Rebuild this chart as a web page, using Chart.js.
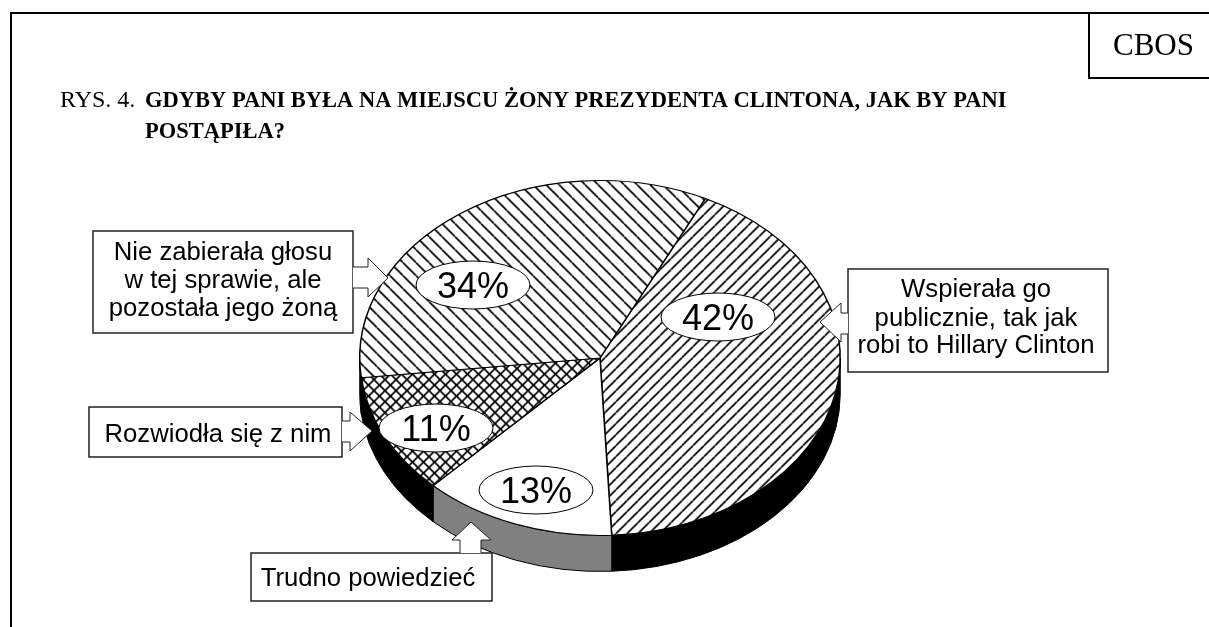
<!DOCTYPE html>
<html>
<head>
<meta charset="utf-8">
<title>RYS. 4</title>
<style>
  html, body { margin: 0; background: #fff; }
  canvas { display: block; }
</style>
<script src="https://cdn.jsdelivr.net/npm/chart.js@4"></script>
</head>
<body>
<canvas id="myChart" width="1209" height="627"></canvas>
<script>
// data
const categories = ["Wspierała go publicznie", "Trudno powiedzieć", "Rozwiodła się z nim", "Nie zabierała głosu"];
const values = [42, 13, 11, 34];
const calloutLines = [
  ["Wspierała go", "publicznie, tak jak", "robi to Hillary Clinton"],
  ["Trudno powiedzieć"],
  ["Rozwiodła się z nim"],
  ["Nie zabierała głosu", "w tej sprawie, ale", "pozostała jego żoną"]
];
const titleLead = "RYS. 4. ";
const titleLines = ["GDYBY PANI BYŁA NA MIEJSCU ŻONY PREZYDENTA CLINTONA, JAK BY PANI", "POSTĄPIŁA?"];
const sourceLabel = "CBOS";

// layout, same order as the slices
const squash = 178 / 241;
const rimDepth = 36;
const rimColors = ["#000", "#808080", "#000", "#000"];
const bubbles = [[718, 317], [536, 490], [436, 428], [473, 285]];
const boxes = [
  { x: 848, y: 269, w: 260, h: 103, textX: 976, base: [297, 326, 353] },
  { x: 251, y: 553, w: 241, h: 48, textX: 368, base: [586] },
  { x: 89, y: 407, w: 253, h: 50, textX: 218, base: [442] },
  { x: 93, y: 231, w: 260, h: 102, textX: 223, base: [260, 288, 316] }
];
const arrows = [
  [[848, 313], [841, 313], [841, 303], [820, 322], [841, 342], [841, 334], [848, 334]],
  [[460, 553], [460, 540], [452, 540], [471, 522], [491, 540], [481, 540], [481, 553]],
  [[342, 421], [350, 421], [350, 412], [372, 431], [350, 451], [350, 442], [342, 442]],
  [[353, 267], [368, 267], [368, 258], [388, 278], [368, 297], [368, 288], [353, 288]]
];

function hatch(size, dirs) {
  const c = document.createElement("canvas");
  c.width = c.height = size;
  const g = c.getContext("2d");
  g.fillStyle = "#fff";
  g.fillRect(0, 0, size, size);
  g.strokeStyle = "#000";
  g.lineWidth = 1.7;
  dirs.forEach((d) => {
    for (let i = -1; i <= 1; i++) {
      g.beginPath();
      if (d === "/") {
        g.moveTo(i * size, size);
        g.lineTo(i * size + size, 0);
      } else {
        g.moveTo(i * size, 0);
        g.lineTo(i * size + size, size);
      }
      g.stroke();
    }
  });
  const p = g.createPattern(c, "repeat");
  // slices are drawn squashed, keep the hatching at 45 degrees on screen
  p.setTransform(new DOMMatrix().scale(1, 1 / squash));
  return p;
}

const fills = [hatch(11, ["/"]), "#fff", hatch(11, ["/", "\\"]), hatch(13, ["\\"])];

const tiltPlugin = {
  id: "tilt",
  beforeDatasetsDraw(chart) {
    const ctx = chart.ctx;
    const arcs = chart.getDatasetMeta(0).data;
    arcs.forEach((el, i) => {
      const s = Math.max(el.startAngle, 0);
      const e = Math.min(el.endAngle, Math.PI);
      if (e <= s) return;
      const rx = el.outerRadius;
      const ry = rx * squash;
      ctx.beginPath();
      ctx.ellipse(el.x, el.y, rx, ry, 0, s, e);
      ctx.ellipse(el.x, el.y + rimDepth, rx, ry, 0, e, s, true);
      ctx.closePath();
      ctx.fillStyle = rimColors[i];
      ctx.fill();
      ctx.strokeStyle = "#000";
      ctx.lineWidth = 1;
      ctx.stroke();
    });
    const first = arcs[0];
    ctx.save();
    ctx.translate(first.x, first.y);
    ctx.scale(1, squash);
    ctx.translate(-first.x, -first.y);
  },
  afterDatasetsDraw(chart) {
    chart.ctx.restore();
  },
  afterDraw(chart) {
    const ctx = chart.ctx;

    // frame
    ctx.strokeStyle = "#000";
    ctx.lineWidth = 2;
    ctx.beginPath();
    ctx.moveTo(11, 627);
    ctx.lineTo(11, 13);
    ctx.lineTo(1209, 13);
    ctx.moveTo(1089, 13);
    ctx.lineTo(1089, 78);
    ctx.lineTo(1209, 78);
    ctx.stroke();

    ctx.fillStyle = "#000";
    ctx.textBaseline = "alphabetic";
    ctx.textAlign = "left";
    ctx.font = '31px "Liberation Serif"';
    ctx.fillText(sourceLabel, 1113, 55);

    ctx.font = '24px "Liberation Serif"';
    ctx.fillText(titleLead, 60, 107);
    ctx.font = 'bold 22.5px "Liberation Serif"';
    ctx.fillText(titleLines[0], 145, 107);
    ctx.fillText(titleLines[1], 145, 138);

    // percent bubbles
    values.forEach((v, i) => {
      const [x, y] = bubbles[i];
      ctx.beginPath();
      ctx.ellipse(x, y, 57, 24, 0, 0, Math.PI * 2);
      ctx.fillStyle = "#fff";
      ctx.fill();
      ctx.strokeStyle = "#000";
      ctx.lineWidth = 1;
      ctx.stroke();
      ctx.fillStyle = "#000";
      ctx.font = '36px "Liberation Sans"';
      ctx.textAlign = "center";
      ctx.textBaseline = "alphabetic";
      ctx.fillText(v + "%", x, y + 13);
    });

    // callouts
    calloutLines.forEach((lines, i) => {
      const b = boxes[i];
      ctx.fillStyle = "#fff";
      ctx.fillRect(b.x, b.y, b.w, b.h);
      ctx.strokeStyle = "#222";
      ctx.lineWidth = 1.5;
      ctx.strokeRect(b.x, b.y, b.w, b.h);

      const pts = arrows[i];
      ctx.beginPath();
      pts.forEach((p, n) => (n ? ctx.lineTo(p[0], p[1]) : ctx.moveTo(p[0], p[1])));
      ctx.fillStyle = "#fff";
      ctx.fill();
      ctx.lineWidth = 1;
      ctx.stroke();

      ctx.fillStyle = "#000";
      ctx.font = '25.7px "Liberation Sans"';
      ctx.textAlign = "center";
      lines.forEach((t, n) => ctx.fillText(t, b.textX, b.base[n]));
    });
  }
};

const myChart = new Chart(document.getElementById("myChart"), {
  type: "pie",
  data: {
    labels: categories,
    datasets: [
      {
        data: values,
        backgroundColor: fills,
        borderColor: "#000",
        borderWidth: 1.5
      }
    ]
  },
  options: {
    responsive: false,
    animation: false,
    rotation: 26,
    layout: { padding: { left: 359, right: 368, top: 117, bottom: 28 } },
    plugins: {
      legend: { display: false },
      tooltip: { enabled: false }
    }
  },
  plugins: [tiltPlugin]
});
</script>
</body>
</html>
